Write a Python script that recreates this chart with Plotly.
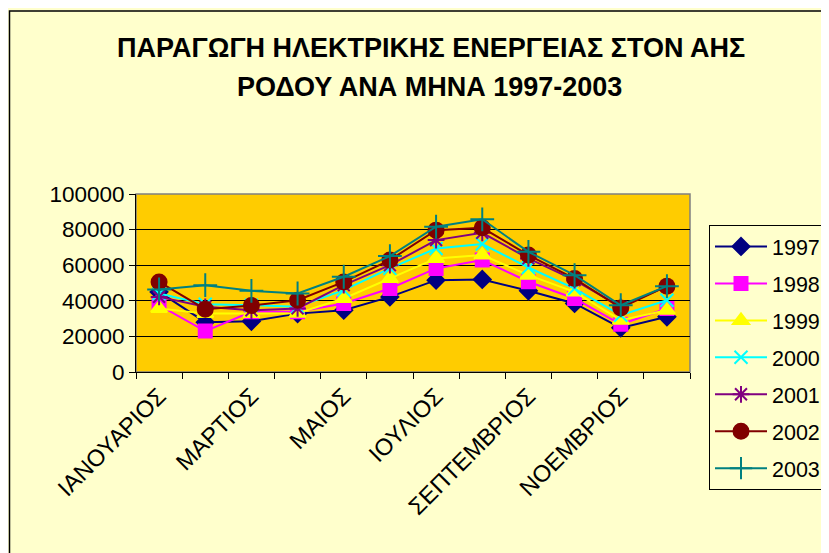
import plotly.graph_objects as go

months = ["ΙΑΝΟΥΑΡΙΟΣ", "ΦΕΒΡΟΥΑΡΙΟΣ", "ΜΑΡΤΙΟΣ", "ΑΠΡΙΛΙΟΣ", "ΜΑΙΟΣ", "ΙΟΥΝΙΟΣ",
          "ΙΟΥΛΙΟΣ", "ΑΥΓΟΥΣΤΟΣ", "ΣΕΠΤΕΜΒΡΙΟΣ", "ΟΚΤΩΒΡΙΟΣ", "ΝΟΕΜΒΡΙΟΣ", "ΔΕΚΕΜΒΡΙΟΣ"]

y1997 = [45000, 28000, 28500, 32800, 34700, 42200, 51600, 52000, 45600, 38500, 24800, 31000]
y1998 = [37500, 23000, 33800, 33800, 38500, 46900, 58200, 62900, 50700, 41300, 26800, 35700]
y1999 = [35700, 32800, 32800, 33000, 41300, 52500, 63800, 65700, 54400, 45000, 29100, 34700]
y2000 = [44100, 38100, 37500, 36600, 46000, 58200, 69400, 71900, 58700, 46900, 31900, 40300]
y2001 = [42200, 36600, 34700, 35700, 48800, 60000, 74100, 78200, 63800, 51600, 36600, 48200]
y2002 = [50600, 35300, 37300, 40300, 50600, 62900, 79700, 81000, 65700, 52500, 36000, 48200]
y2003 = [46400, 48800, 45600, 44100, 53500, 65100, 81600, 85800, 67500, 54400, 37500, 48200]

years = ["1997", "1998", "1999", "2000", "2001", "2002", "2003"]
series = [y1997, y1998, y1999, y2000, y2001, y2002, y2003]
colors = ["#000080", "#FF00FF", "#FFFF00", "#00FFFF", "#800080", "#800000", "#008080"]
symbols = ["diamond", "square", "triangle-up", "x-thin-open", "asterisk-open", "circle", "cross-thin-open"]
sizes = [13, 13, 14, 13, 14, 15, 17]

y_ticks = [0, 20000, 40000, 60000, 80000, 100000]

title1 = "ΠΑΡΑΓΩΓΗ ΗΛΕΚΤΡΙΚΗΣ ΕΝΕΡΓΕΙΑΣ ΣΤΟΝ ΑΗΣ"
title2 = "ΡΟΔΟΥ ΑΝΑ ΜΗΝΑ 1997-2003"

xi = list(range(len(months)))

fig = go.Figure()
for name, vals, c, s, sz in zip(years, series, colors, symbols, sizes):
    fig.add_trace(go.Scatter(
        x=xi, y=vals, name=name, mode="lines+markers", legendgroup=name,
        line=dict(color=c, width=2),
        marker=dict(symbol=s, size=sz, color=c, line=dict(color=c, width=2)),
    ))

# the page body adds an 8px offset; figure coordinates = screenshot - 8
OFF = 8
W, H = 829 - OFF, 553 - OFF
L, T = 136 - OFF, 194 - OFF
PR, PB = 690 - OFF, 372 - OFF
R, B = W - PR, H - PB
pw, ph = PR - L, PB - T

def px_x(p):
    return (p - OFF - L) / pw

def px_y(p):
    return (PB - (p - OFF)) / ph

FONT = "Arial, Liberation Sans, sans-serif"

fig.update_layout(
    width=W, height=H,
    margin=dict(l=L, r=R, t=T, b=B, autoexpand=False),
    paper_bgcolor="#FFFFCC",
    plot_bgcolor="#FFCC00",
    font=dict(family=FONT, color="black", size=21),
    showlegend=True,
    legend=dict(
        x=px_x(709), y=px_y(225), xanchor="left", yanchor="top",
        bgcolor="#FFFFCC", bordercolor="black", borderwidth=1,
        font=dict(size=21.5), tracegroupgap=6, itemwidth=52, maxheight=400,
    ),
    xaxis=dict(
        range=[-0.5, len(months) - 0.5],
        tickmode="array", tickvals=xi[::2], ticktext=months[::2],
        tickangle=-45, ticks="outside", ticklen=0,
        showgrid=False, zeroline=False,
        showline=True, linecolor="black", linewidth=1,
        minor=dict(tick0=-0.5, dtick=1, ticks="outside", ticklen=6,
                   tickcolor="black", showgrid=False),
        tickfont=dict(size=23.5),
    ),
    yaxis=dict(
        range=[0, 100000], tickmode="array", tickvals=y_ticks,
        ticktext=[str(v) for v in y_ticks],
        ticks="outside", ticklen=6, tickcolor="black",
        showgrid=True, gridcolor="black", gridwidth=1,
        zeroline=False, showline=True, linecolor="black", linewidth=1,
        tickfont=dict(size=22.5),
    ),
    annotations=[
        dict(text="<b>" + title1 + "</b>", xref="paper", yref="paper",
             x=px_x(431), y=px_y(48), xanchor="center", yanchor="middle",
             showarrow=False, font=dict(size=27, family=FONT)),
        dict(text="<b>" + title2 + "</b>", xref="paper", yref="paper",
             x=px_x(429), y=px_y(87), xanchor="center", yanchor="middle",
             showarrow=False, font=dict(size=27, family=FONT)),
    ],
    shapes=[
        dict(type="rect", xref="paper", yref="paper", x0=px_x(9.5), x1=px_x(829 + 30),
             y0=px_y(553 + 30), y1=px_y(11), line=dict(color="black", width=1.5), layer="above"),
        dict(type="rect", xref="paper", yref="paper", x0=0, x1=1, y0=0, y1=1,
             line=dict(color="#808080", width=1.5), layer="below"),
    ],
)

fig.write_html("out.html")
